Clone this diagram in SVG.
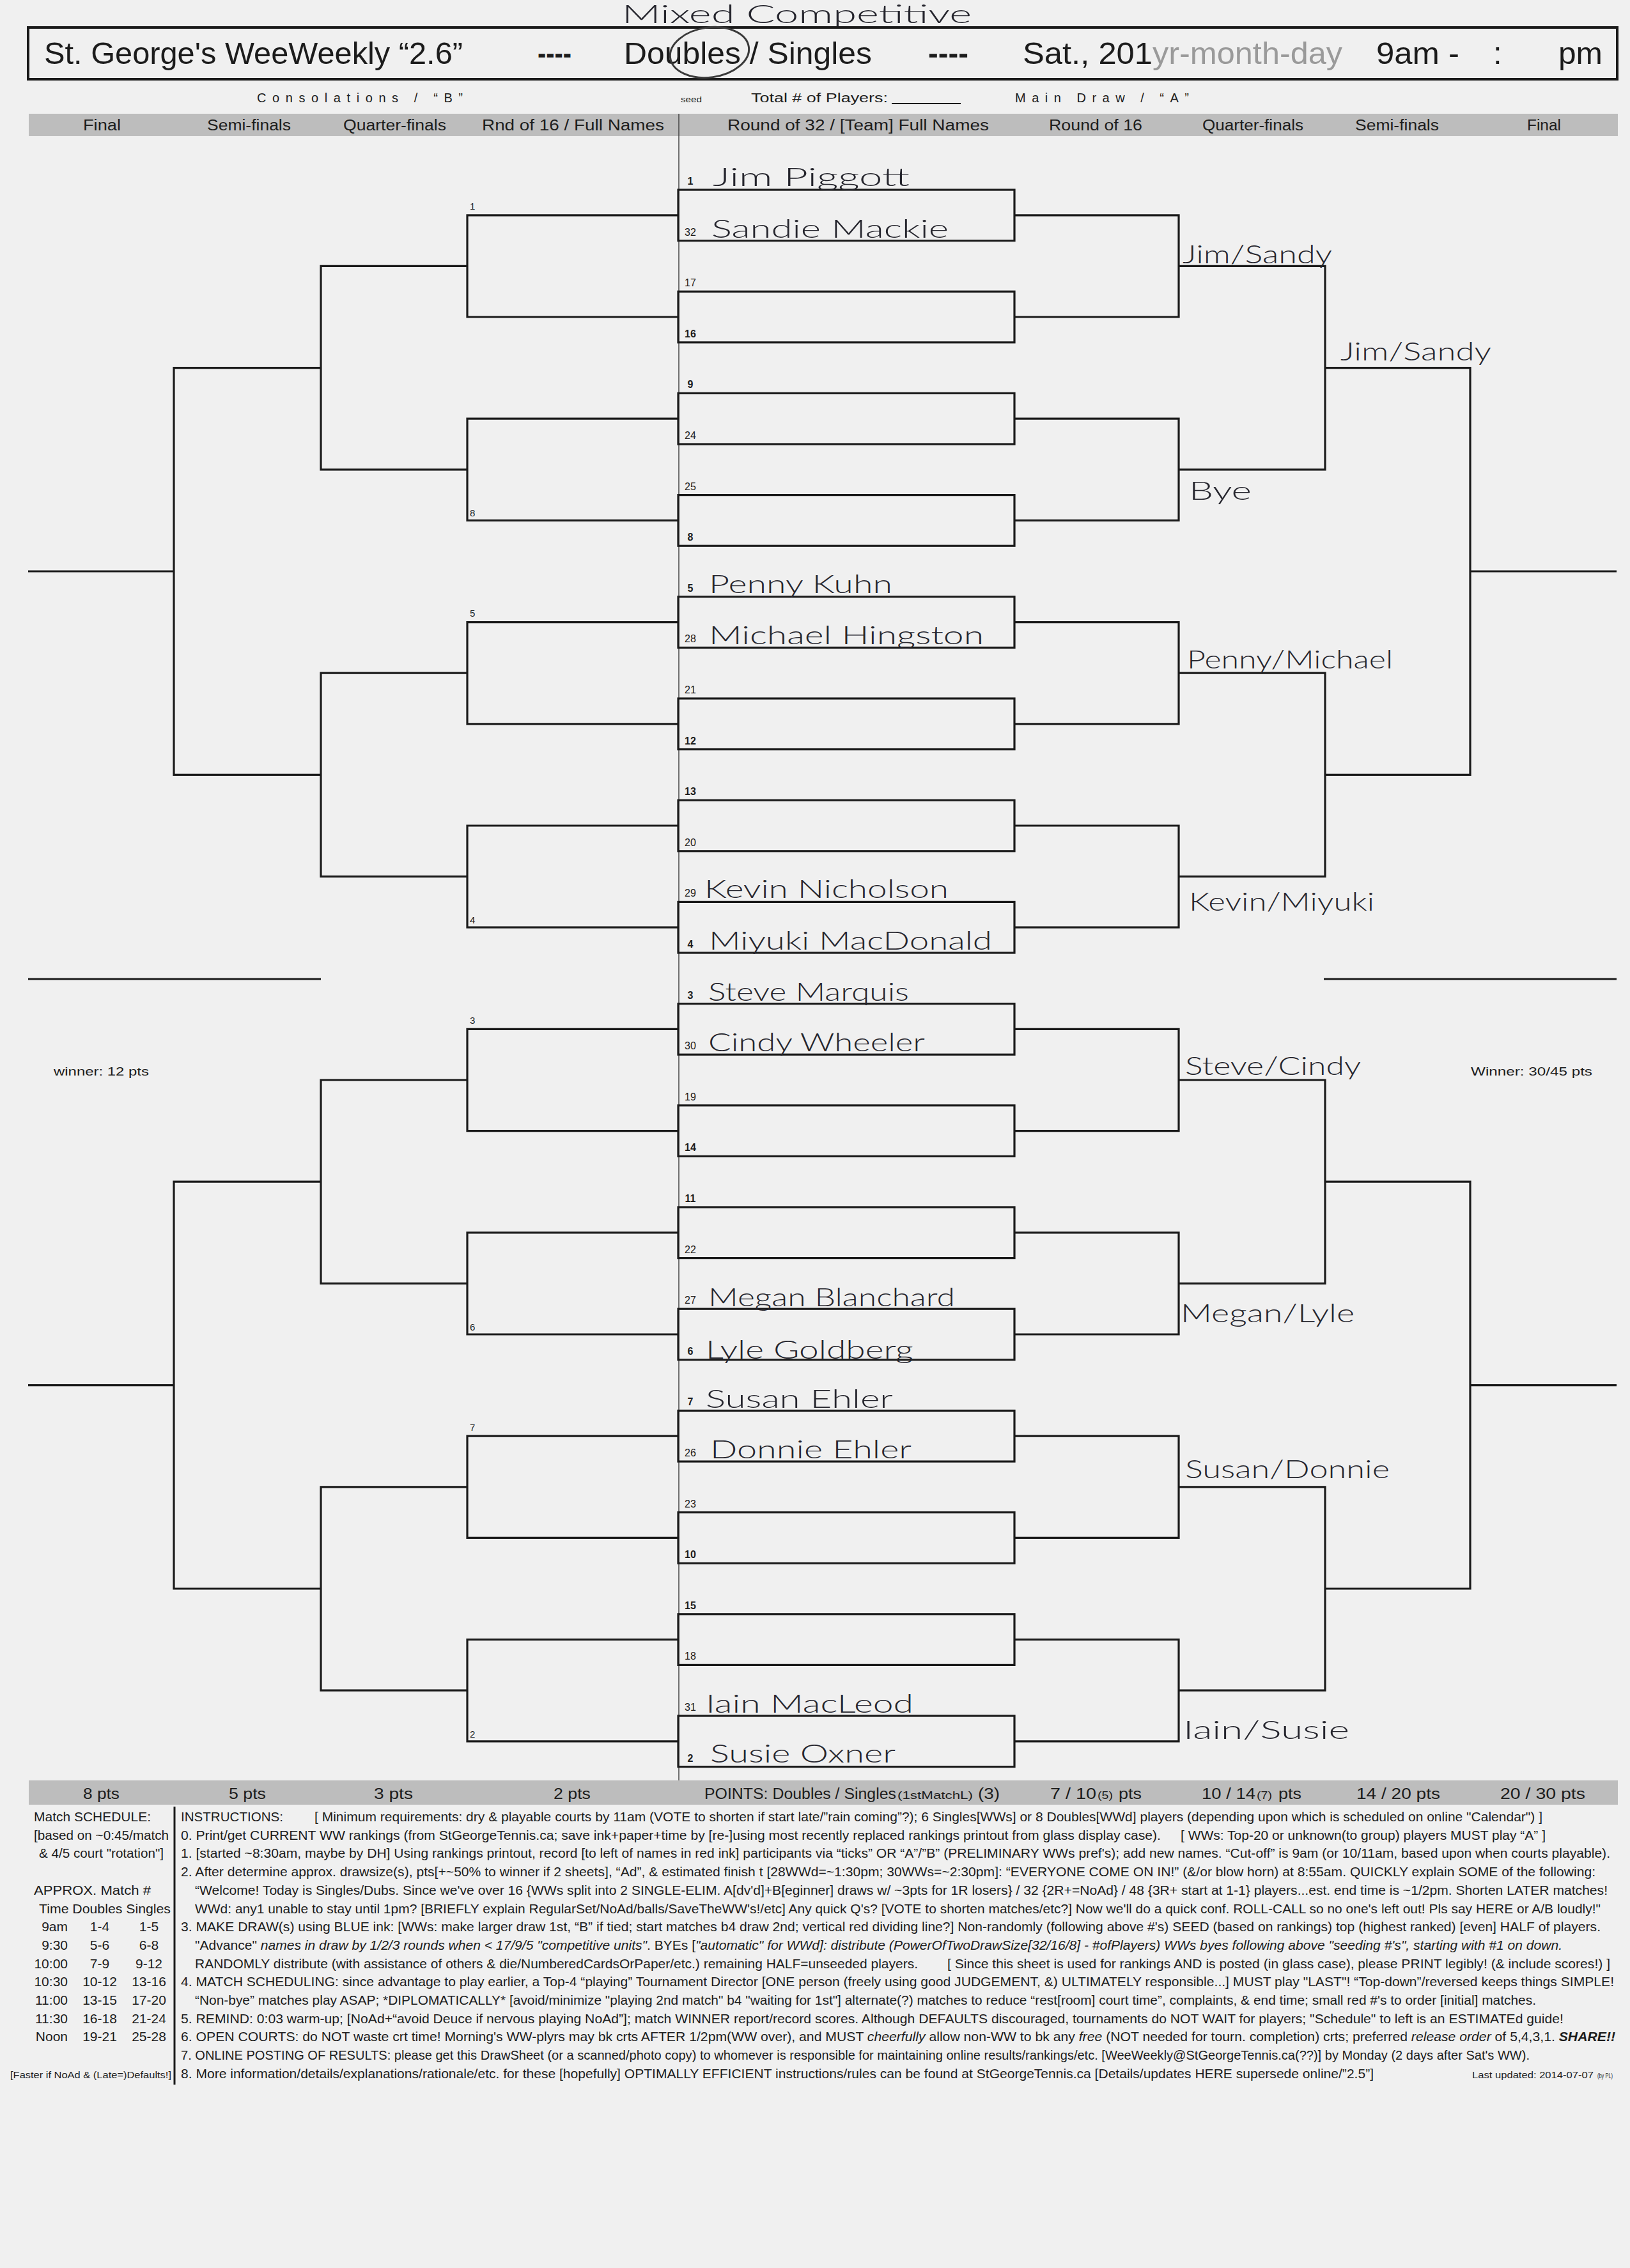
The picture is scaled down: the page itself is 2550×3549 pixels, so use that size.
<svg xmlns="http://www.w3.org/2000/svg" width="2550" height="3549" viewBox="0 0 2550 3549">
<style>
.ln{stroke:#1a1a1a;stroke-width:3.2;fill:none}
.bx{stroke:#1a1a1a;stroke-width:3.2;fill:none}
.t{font-family:"Liberation Sans",Arial,sans-serif;fill:#1c1c1c}
.hw{font-family:Lato,"DejaVu Sans",sans-serif;font-weight:300;fill:#25252d;font-size:40px}
.seed{font-size:16px;text-anchor:middle}
.cl{font-size:15px}
.b{font-weight:bold}
.ins{font-size:21px}
.hb{font-size:23px}
.bar{fill:#bdbdbd}
.it{font-style:italic}
</style>
<rect x="0" y="0" width="2550" height="3549" fill="#f0f0f0"/>

<g id="header">
<text class="hw" x="973" y="36" textLength="547" lengthAdjust="spacingAndGlyphs">Mixed  Competitive</text>
<rect x="44" y="43" width="2486" height="81" fill="none" stroke="#1a1a1a" stroke-width="4"/>
<text class="t" font-size="49" x="69" y="100" textLength="655" lengthAdjust="spacingAndGlyphs">St. George's WeeWeekly “2.6”</text>
<text class="t b" font-size="49" x="841" y="100" textLength="53" lengthAdjust="spacingAndGlyphs">----</text>
<text class="t" font-size="49" x="976" y="100" textLength="388" lengthAdjust="spacingAndGlyphs">Doubles / Singles</text>
<ellipse cx="1110" cy="82" rx="62" ry="39" transform="rotate(-8 1110 82)" fill="none" stroke="#3a3a3a" stroke-width="3"/>
<text class="t b" font-size="49" x="1452" y="100" textLength="63" lengthAdjust="spacingAndGlyphs">----</text>
<text class="t" font-size="49" x="1600" y="100" textLength="203" lengthAdjust="spacingAndGlyphs">Sat., 201</text>
<text class="t" font-size="49" x="1803" y="100" textLength="297" lengthAdjust="spacingAndGlyphs" style="fill:#9a9a9a">yr-month-day</text>
<text class="t" font-size="49" x="2153" y="100" textLength="130" lengthAdjust="spacingAndGlyphs">9am -</text>
<text class="t" font-size="49" x="2336" y="100">:</text>
<text class="t" font-size="49" x="2438" y="100" textLength="69" lengthAdjust="spacingAndGlyphs">pm</text>
</g>

<g id="subheader">
<text class="t" font-size="20" x="402" y="160" textLength="322" lengthAdjust="spacing">Consolations / “B”</text>
<text class="t" font-size="12" x="1065" y="160" textLength="33" lengthAdjust="spacingAndGlyphs">seed</text>
<text class="t" font-size="20" x="1175" y="160" textLength="214" lengthAdjust="spacingAndGlyphs">Total # of Players:</text>
<line x1="1395" y1="162" x2="1503" y2="162" stroke="#1a1a1a" stroke-width="2"/>
<text class="t" font-size="20" x="1588" y="160" textLength="272" lengthAdjust="spacing">Main Draw / “A”</text>
</g>

<g id="column-headers">
<rect class="bar" x="45" y="178" width="2486" height="35"/>
<text class="t hb" x="130" y="204" textLength="59" lengthAdjust="spacingAndGlyphs">Final</text>
<text class="t hb" x="324" y="204" textLength="131" lengthAdjust="spacingAndGlyphs">Semi-finals</text>
<text class="t hb" x="537" y="204" textLength="161" lengthAdjust="spacingAndGlyphs">Quarter-finals</text>
<text class="t hb" x="754" y="204" textLength="285" lengthAdjust="spacingAndGlyphs">Rnd of 16  /  Full Names</text>
<text class="t hb" x="1138" y="204" textLength="409" lengthAdjust="spacingAndGlyphs">Round of 32  /  [Team] Full Names</text>
<text class="t hb" x="1641" y="204" textLength="146" lengthAdjust="spacingAndGlyphs">Round of 16</text>
<text class="t hb" x="1881" y="204" textLength="158" lengthAdjust="spacingAndGlyphs">Quarter-finals</text>
<text class="t hb" x="2120" y="204" textLength="131" lengthAdjust="spacingAndGlyphs">Semi-finals</text>
<text class="t hb" x="2389" y="204" textLength="53" lengthAdjust="spacingAndGlyphs">Final</text>
</g>

<g id="connectors">
<line x1="1062" y1="178" x2="1062" y2="2786" stroke="#444" stroke-width="1.5"/>
<path class="ln" d="M1061 336.8H731V496H1061M1061 655.2H731V814.4H1061M1061 973.6H731V1132.8H1061M1061 1292H731V1451.2H1061M1061 1610.4H731V1769.6H1061M1061 1928.8H731V2088H1061M1061 2247.2H731V2406.4H1061M1061 2565.6H731V2724.8H1061"/>
<path class="ln" d="M731 416.4H502V734.8H731M731 1053.2H502V1371.6H731M731 1690H502V2008.4H731M731 2326.8H502V2645.2H731"/>
<path class="ln" d="M502 575.6H272V1212.4H502M502 1849.2H272V2486H502"/>
<path class="ln" d="M272 894H44M272 2167.6H44M44 1532H502"/>
<path class="ln" d="M1587 336.8H1844V496H1587M1587 655.2H1844V814.4H1587M1587 973.6H1844V1132.8H1587M1587 1292H1844V1451.2H1587M1587 1610.4H1844V1769.6H1587M1587 1928.8H1844V2088H1587M1587 2247.2H1844V2406.4H1587M1587 2565.6H1844V2724.8H1587"/>
<path class="ln" d="M1844 416.4H2073V734.8H1844M1844 1053.2H2073V1371.6H1844M1844 1690H2073V2008.4H1844M1844 2326.8H2073V2645.2H1844"/>
<path class="ln" d="M2073 575.6H2300V1212.4H2073M2073 1849.2H2300V2486H2073"/>
<path class="ln" d="M2300 894H2529M2300 2167.6H2529M2071 1532H2529"/>
</g>

<g id="consolation-labels">
<text class="t cl" x="735" y="328">1</text>
<text class="t cl" x="735" y="808">8</text>
<text class="t cl" x="735" y="965">5</text>
<text class="t cl" x="735" y="1445">4</text>
<text class="t cl" x="735" y="1602">3</text>
<text class="t cl" x="735" y="2082">6</text>
<text class="t cl" x="735" y="2239">7</text>
<text class="t cl" x="735" y="2719">2</text>
<text class="t" font-size="19" x="84" y="1683" textLength="149" lengthAdjust="spacingAndGlyphs">winner: 12 pts</text>
<text class="t" font-size="19" x="2301" y="1683" textLength="190" lengthAdjust="spacingAndGlyphs">Winner: 30/45 pts</text>
</g>

<g id="r32-m1"><rect class="bx" x="1061" y="297" width="526" height="79.6"/><text class="t seed b" x="1080" y="289">1</text><text class="t seed" x="1080" y="368.6">32</text>
<text class="hw" x="1115" y="291" textLength="308" lengthAdjust="spacingAndGlyphs">Jim Piggott</text><text class="hw" x="1113" y="372" textLength="371" lengthAdjust="spacingAndGlyphs">Sandie Mackie</text></g>
<g id="r32-m2"><rect class="bx" x="1061" y="456.2" width="526" height="79.6"/><text class="t seed" x="1080" y="448.2">17</text><text class="t seed b" x="1080" y="527.8">16</text></g>
<g id="r32-m3"><rect class="bx" x="1061" y="615.4" width="526" height="79.6"/><text class="t seed b" x="1080" y="607.4">9</text><text class="t seed" x="1080" y="687">24</text></g>
<g id="r32-m4"><rect class="bx" x="1061" y="774.6" width="526" height="79.6"/><text class="t seed" x="1080" y="766.6">25</text><text class="t seed b" x="1080" y="846.2">8</text></g>
<g id="r32-m5"><rect class="bx" x="1061" y="933.8" width="526" height="79.6"/><text class="t seed b" x="1080" y="925.8">5</text><text class="t seed" x="1080" y="1005.4">28</text>
<text class="hw" x="1109" y="928" textLength="287" lengthAdjust="spacingAndGlyphs">Penny Kuhn</text><text class="hw" x="1109" y="1008" textLength="430" lengthAdjust="spacingAndGlyphs">Michael Hingston</text></g>
<g id="r32-m6"><rect class="bx" x="1061" y="1093" width="526" height="79.6"/><text class="t seed" x="1080" y="1085">21</text><text class="t seed b" x="1080" y="1164.6">12</text></g>
<g id="r32-m7"><rect class="bx" x="1061" y="1252.2" width="526" height="79.6"/><text class="t seed b" x="1080" y="1244.2">13</text><text class="t seed" x="1080" y="1323.8">20</text></g>
<g id="r32-m8"><rect class="bx" x="1061" y="1411.4" width="526" height="79.6"/><text class="t seed" x="1080" y="1403.4">29</text><text class="t seed b" x="1080" y="1483">4</text>
<text class="hw" x="1102" y="1405" textLength="382" lengthAdjust="spacingAndGlyphs">Kevin Nicholson</text><text class="hw" x="1109" y="1486" textLength="443" lengthAdjust="spacingAndGlyphs">Miyuki MacDonald</text></g>
<g id="r32-m9"><rect class="bx" x="1061" y="1570.6" width="526" height="79.6"/><text class="t seed b" x="1080" y="1562.6">3</text><text class="t seed" x="1080" y="1642.2">30</text>
<text class="hw" x="1108" y="1566" textLength="314" lengthAdjust="spacingAndGlyphs">Steve Marquis</text><text class="hw" x="1108" y="1645" textLength="339" lengthAdjust="spacingAndGlyphs">Cindy Wheeler</text></g>
<g id="r32-m10"><rect class="bx" x="1061" y="1729.8" width="526" height="79.6"/><text class="t seed" x="1080" y="1721.8">19</text><text class="t seed b" x="1080" y="1801.4">14</text></g>
<g id="r32-m11"><rect class="bx" x="1061" y="1889" width="526" height="79.6"/><text class="t seed b" x="1080" y="1881">11</text><text class="t seed" x="1080" y="1960.6">22</text></g>
<g id="r32-m12"><rect class="bx" x="1061" y="2048.2" width="526" height="79.6"/><text class="t seed" x="1080" y="2040.2">27</text><text class="t seed b" x="1080" y="2119.8">6</text>
<text class="hw" x="1108" y="2044" textLength="386" lengthAdjust="spacingAndGlyphs">Megan Blanchard</text><text class="hw" x="1104" y="2126" textLength="325" lengthAdjust="spacingAndGlyphs">Lyle Goldberg</text></g>
<g id="r32-m13"><rect class="bx" x="1061" y="2207.4" width="526" height="79.6"/><text class="t seed b" x="1080" y="2199.4">7</text><text class="t seed" x="1080" y="2279">26</text>
<text class="hw" x="1104" y="2203" textLength="293" lengthAdjust="spacingAndGlyphs">Susan Ehler</text><text class="hw" x="1111" y="2282" textLength="315" lengthAdjust="spacingAndGlyphs">Donnie Ehler</text></g>
<g id="r32-m14"><rect class="bx" x="1061" y="2366.6" width="526" height="79.6"/><text class="t seed" x="1080" y="2358.6">23</text><text class="t seed b" x="1080" y="2438.2">10</text></g>
<g id="r32-m15"><rect class="bx" x="1061" y="2525.8" width="526" height="79.6"/><text class="t seed b" x="1080" y="2517.8">15</text><text class="t seed" x="1080" y="2597.4">18</text></g>
<g id="r32-m16"><rect class="bx" x="1061" y="2685" width="526" height="79.6"/><text class="t seed" x="1080" y="2677">31</text><text class="t seed b" x="1080" y="2756.6">2</text>
<text class="hw" x="1104" y="2680" textLength="325" lengthAdjust="spacingAndGlyphs">Iain MacLeod</text><text class="hw" x="1111" y="2758" textLength="290" lengthAdjust="spacingAndGlyphs">Susie Oxner</text></g>

<g id="r16-1"><text class="hw" x="1850" y="412" textLength="234" lengthAdjust="spacingAndGlyphs">Jim/Sandy</text></g>
<g id="r16-2"><text class="hw" x="1860" y="782" textLength="98" lengthAdjust="spacingAndGlyphs">Bye</text></g>
<g id="r16-3"><text class="hw" x="1857" y="1046" textLength="322" lengthAdjust="spacingAndGlyphs">Penny/Michael</text></g>
<g id="r16-4"><text class="hw" x="1860" y="1425" textLength="290" lengthAdjust="spacingAndGlyphs">Kevin/Miyuki</text></g>
<g id="r16-5"><text class="hw" x="1854" y="1682" textLength="275" lengthAdjust="spacingAndGlyphs">Steve/Cindy</text></g>
<g id="r16-6"><text class="hw" x="1847" y="2069" textLength="272" lengthAdjust="spacingAndGlyphs">Megan/Lyle</text></g>
<g id="r16-7"><text class="hw" x="1854" y="2313" textLength="320" lengthAdjust="spacingAndGlyphs">Susan/Donnie</text></g>
<g id="r16-8"><text class="hw" x="1851" y="2721" textLength="260" lengthAdjust="spacingAndGlyphs">Iain/Susie</text></g>
<g id="qf-1"><text class="hw" x="2097" y="564" textLength="236" lengthAdjust="spacingAndGlyphs">Jim/Sandy</text></g>

<g id="points-bar">
<rect class="bar" x="45" y="2786" width="2486" height="38"/>
<text class="t hb" x="130" y="2815" textLength="57" lengthAdjust="spacingAndGlyphs">8 pts</text>
<text class="t hb" x="358" y="2815" textLength="58" lengthAdjust="spacingAndGlyphs">5 pts</text>
<text class="t hb" x="585" y="2815" textLength="61" lengthAdjust="spacingAndGlyphs">3 pts</text>
<text class="t hb" x="866" y="2815" textLength="58" lengthAdjust="spacingAndGlyphs">2 pts</text>
<text class="t hb" x="1102" y="2815" textLength="300" lengthAdjust="spacingAndGlyphs">POINTS: Doubles / Singles</text>
<text class="t" font-size="17" x="1404" y="2815" textLength="118" lengthAdjust="spacingAndGlyphs">(1stMatchL)</text>
<text class="t hb" x="1530" y="2815" textLength="34" lengthAdjust="spacingAndGlyphs">(3)</text>
<text class="t hb" x="1643" y="2815" textLength="72" lengthAdjust="spacingAndGlyphs">7 / 10</text>
<text class="t" font-size="16" x="1717" y="2815" textLength="24" lengthAdjust="spacingAndGlyphs">(5)</text>
<text class="t hb" x="1750" y="2815" textLength="36" lengthAdjust="spacingAndGlyphs">pts</text>
<text class="t hb" x="1880" y="2815" textLength="84" lengthAdjust="spacingAndGlyphs">10 / 14</text>
<text class="t" font-size="16" x="1966" y="2815" textLength="24" lengthAdjust="spacingAndGlyphs">(7)</text>
<text class="t hb" x="2000" y="2815" textLength="36" lengthAdjust="spacingAndGlyphs">pts</text>
<text class="t hb" x="2122" y="2815" textLength="131" lengthAdjust="spacingAndGlyphs">14 / 20  pts</text>
<text class="t hb" x="2347" y="2815" textLength="133" lengthAdjust="spacingAndGlyphs">20 / 30  pts</text>
</g>

<g id="schedule">
<text class="t ins" x="53" y="2850" textLength="183" lengthAdjust="spacingAndGlyphs">Match SCHEDULE:</text>
<text class="t ins" x="53" y="2878.7" textLength="211" lengthAdjust="spacingAndGlyphs">[based on ~0:45/match</text>
<text class="t ins" x="61" y="2907.4" textLength="195" lengthAdjust="spacingAndGlyphs">&amp; 4/5 court "rotation"]</text>
<text class="t ins" x="53" y="2964.8" textLength="183" lengthAdjust="spacingAndGlyphs">APPROX.  Match #</text>
<text class="t ins" x="61" y="2993.5" textLength="206" lengthAdjust="spacingAndGlyphs">Time Doubles Singles</text>
<g text-anchor="end">
<text class="t ins" x="106" y="3022.2">9am</text>
<text class="t ins" x="106" y="3050.9">9:30</text>
<text class="t ins" x="106" y="3079.6">10:00</text>
<text class="t ins" x="106" y="3108.3">10:30</text>
<text class="t ins" x="106" y="3137">11:00</text>
<text class="t ins" x="106" y="3165.7">11:30</text>
<text class="t ins" x="106" y="3194.4">Noon</text>
</g>
<g text-anchor="middle">
<text class="t ins" x="156" y="3022.2">1-4</text>
<text class="t ins" x="156" y="3050.9">5-6</text>
<text class="t ins" x="156" y="3079.6">7-9</text>
<text class="t ins" x="156" y="3108.3">10-12</text>
<text class="t ins" x="156" y="3137">13-15</text>
<text class="t ins" x="156" y="3165.7">16-18</text>
<text class="t ins" x="156" y="3194.4">19-21</text>
<text class="t ins" x="233" y="3022.2">1-5</text>
<text class="t ins" x="233" y="3050.9">6-8</text>
<text class="t ins" x="233" y="3079.6">9-12</text>
<text class="t ins" x="233" y="3108.3">13-16</text>
<text class="t ins" x="233" y="3137">17-20</text>
<text class="t ins" x="233" y="3165.7">21-24</text>
<text class="t ins" x="233" y="3194.4">25-28</text>
</g>
<text class="t" font-size="14" x="16" y="3251.8" textLength="252" lengthAdjust="spacingAndGlyphs">[Faster if NoAd &amp; (Late=)Defaults!]</text>
<line x1="273" y1="2827" x2="273" y2="3262" stroke="#1a1a1a" stroke-width="3"/>
</g>

<g id="instructions">
<text class="t ins" x="283" y="2850" textLength="160" lengthAdjust="spacingAndGlyphs">INSTRUCTIONS:</text>
<text class="t ins" x="492" y="2850" textLength="1921" lengthAdjust="spacingAndGlyphs">[ Minimum requirements: dry &amp; playable courts by 11am (VOTE to shorten if start late/”rain coming”?); 6 Singles[WWs] or 8 Doubles[WWd] players (depending upon which is scheduled on online "Calendar") ]</text>
<text class="t ins" x="283" y="2878.7" textLength="1533" lengthAdjust="spacingAndGlyphs">0. Print/get CURRENT WW rankings (from StGeorgeTennis.ca; save ink+paper+time by [re-]using most recently replaced rankings printout from glass display case).</text>
<text class="t ins" x="1847" y="2878.7" textLength="571" lengthAdjust="spacingAndGlyphs">[ WWs: Top-20 or unknown(to group) players MUST play “A” ]</text>
<text class="t ins" x="283" y="2907.4" textLength="2236" lengthAdjust="spacingAndGlyphs">1. [started ~8:30am, maybe by DH] Using rankings printout, record [to left of names in red ink] participants via “ticks” OR “A”/”B” (PRELIMINARY WWs pref's); add new names.  “Cut-off” is 9am (or 10/11am, based upon when courts playable).</text>
<text class="t ins" x="283" y="2936.1" textLength="2213" lengthAdjust="spacingAndGlyphs">2. After determine approx. drawsize(s), pts[+~50% to winner if 2 sheets], “Ad”, &amp; estimated finish t [28WWd=~1:30pm; 30WWs=~2:30pm]: “EVERYONE COME ON IN!” (&amp;/or blow horn) at 8:55am.  QUICKLY explain SOME of the following:</text>
<text class="t ins" x="305" y="2964.8" textLength="2210" lengthAdjust="spacingAndGlyphs">“Welcome! Today is Singles/Dubs. Since we've over 16 {WWs split into 2 SINGLE-ELIM. A[dv'd]+B[eginner] draws w/ ~3pts for 1R losers} / 32 {2R+=NoAd} / 48 {3R+ start at 1-1} players...est. end time is ~1/2pm. Shorten LATER matches!</text>
<text class="t ins" x="305" y="2993.5" textLength="2199" lengthAdjust="spacingAndGlyphs">WWd: any1 unable to stay until 1pm? [BRIEFLY explain RegularSet/NoAd/balls/SaveTheWW's!/etc] Any quick Q's? [VOTE to shorten matches/etc?] Now we'll do a quick conf. ROLL-CALL so no one's left out! Pls say HERE or A/B loudly!"</text>
<text class="t ins" x="283" y="3022.2" textLength="2221" lengthAdjust="spacingAndGlyphs">3. MAKE DRAW(s) using BLUE ink:  [WWs: make larger draw 1st, “B” if tied; start matches b4 draw 2nd; vertical red dividing line?]  Non-randomly (following above #'s) SEED (based on rankings) top (highest ranked) [even] HALF of players.</text>
<text class="t ins" x="305" y="3050.9" textLength="2139" lengthAdjust="spacingAndGlyphs">"Advance" <tspan class="it">names in draw by 1/2/3 rounds when &lt; 17/9/5 "competitive units"</tspan>.  BYEs [<tspan class="it">"automatic" for WWd]: distribute (PowerOfTwoDrawSize[32/16/8] - #ofPlayers) WWs byes following above "seeding #'s", starting with #1 on down.</tspan></text>
<text class="t ins" x="305" y="3079.6" textLength="1131" lengthAdjust="spacingAndGlyphs">RANDOMLY distribute (with assistance of others &amp; die/NumberedCardsOrPaper/etc.) remaining HALF=unseeded players.</text>
<text class="t ins" x="1482" y="3079.6" textLength="1037" lengthAdjust="spacingAndGlyphs">[ Since this sheet is used for rankings AND is posted (in glass case), please PRINT legibly! (&amp; include scores!) ]</text>
<text class="t ins" x="283" y="3108.3" textLength="2242" lengthAdjust="spacingAndGlyphs">4. MATCH SCHEDULING: since advantage to play earlier, a Top-4 “playing” Tournament Director [ONE person (freely using good JUDGEMENT, &amp;) ULTIMATELY responsible...] MUST play "LAST"!  “Top-down”/reversed keeps things SIMPLE!</text>
<text class="t ins" x="305" y="3137" textLength="2098" lengthAdjust="spacingAndGlyphs">“Non-bye” matches play ASAP; *DIPLOMATICALLY* [avoid/minimize "playing 2nd match" b4 "waiting for 1st"] alternate(?) matches to reduce “rest[room] court time”, complaints, &amp; end time; small red #'s to order [initial] matches.</text>
<text class="t ins" x="283" y="3165.7" textLength="2163" lengthAdjust="spacingAndGlyphs">5.  REMIND: 0:03 warm-up; [NoAd+“avoid Deuce if nervous playing NoAd”]; match WINNER report/record scores.   Although DEFAULTS discouraged, tournaments do NOT WAIT for players; "Schedule" to left is an ESTIMATEd guide!</text>
<text class="t ins" x="283" y="3194.4" textLength="2244" lengthAdjust="spacingAndGlyphs">6. OPEN COURTS: do NOT waste crt time!  Morning's WW-plyrs may bk crts AFTER 1/2pm(WW over), and MUST <tspan class="it">cheerfully</tspan> allow non-WW to bk any <tspan class="it">free</tspan> (NOT needed for tourn. completion) crts; preferred <tspan class="it">release order</tspan> of 5,4,3,1.  <tspan class="it b">SHARE!!</tspan></text>
<text class="t ins" x="283" y="3223.1" textLength="2110" lengthAdjust="spacingAndGlyphs">7. ONLINE POSTING OF RESULTS:  please get this DrawSheet (or a scanned/photo copy) to whomever is responsible for maintaining online results/rankings/etc. [WeeWeekly@StGeorgeTennis.ca(??)] by Monday (2 days after Sat's WW).</text>
<text class="t ins" x="283" y="3251.8" textLength="1866" lengthAdjust="spacingAndGlyphs">8. More information/details/explanations/rationale/etc. for these [hopefully] OPTIMALLY EFFICIENT instructions/rules can be found at StGeorgeTennis.ca [Details/updates HERE supersede online/”2.5”]</text>
<text class="t" font-size="15" x="2303" y="3251.8" textLength="190" lengthAdjust="spacingAndGlyphs">Last updated: 2014-07-07</text>
<text class="t" font-size="10" x="2499" y="3251.8" textLength="24" lengthAdjust="spacingAndGlyphs">(by PL)</text>
</g>
</svg>
